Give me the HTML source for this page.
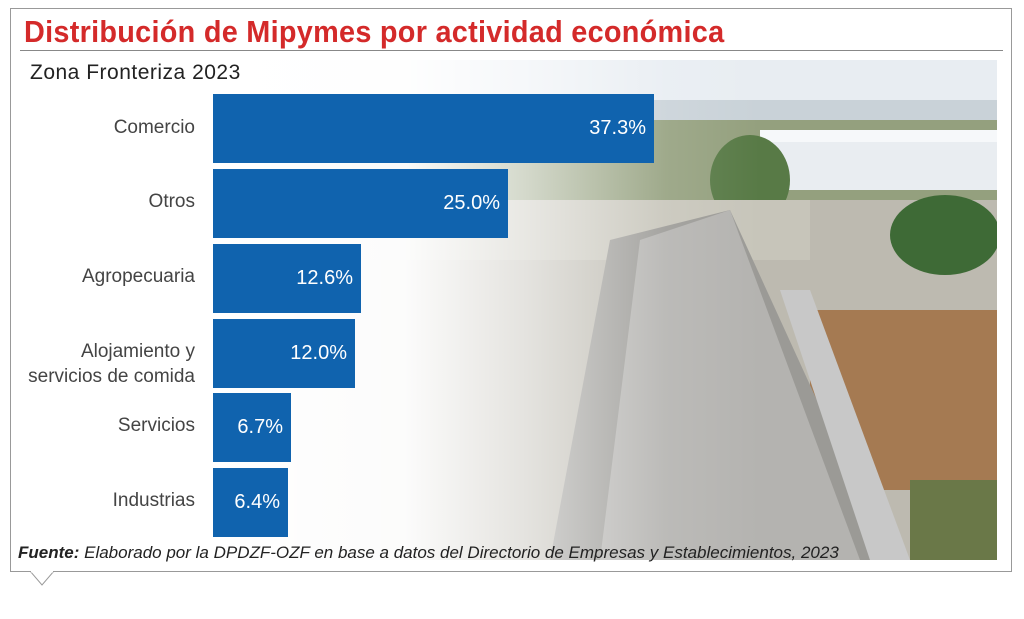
<!DOCTYPE html>
<html><head><meta charset="utf-8"><style>
body{margin:0;width:1024px;height:619px;background:#fff;position:relative;overflow:hidden;font-family:"Liberation Sans",sans-serif}
.box{position:absolute;left:10px;top:8px;width:1002px;height:564px;border:1px solid #999;box-sizing:border-box}
.title{position:absolute;left:24px;top:14px;font-weight:bold;font-size:31px;color:#d42a2a;transform:scaleX(0.93);transform-origin:left top;white-space:nowrap;letter-spacing:0.3px}
.rule{position:absolute;left:20px;top:50px;width:983px;height:1px;background:#888}
.sub{position:absolute;left:30px;top:61px;font-size:21px;color:#222;z-index:2;letter-spacing:0.5px}
.photo{position:absolute;left:210px;top:60px;width:787px;height:500px;overflow:hidden}
.fade{position:absolute;left:0;top:0;width:100%;height:100%;background:linear-gradient(90deg,#fff 0%,rgba(255,255,255,.95) 25%,rgba(255,255,255,.6) 40%,rgba(255,255,255,.1) 58%,rgba(255,255,255,0) 70%)}
.bar{position:absolute;left:213px;height:69px;background:#1063ae;color:#fff;font-size:20px;text-align:right;box-sizing:border-box;padding-right:8px;line-height:69px}
.lab{position:absolute;right:829px;font-size:19px;color:#444;text-align:right;line-height:25px}
.src{position:absolute;left:18px;top:543px;font-size:17px;font-style:italic;color:#222;white-space:nowrap;z-index:2}
</style></head><body>
<div class="box"></div>
<div class="title">Distribución de Mipymes por actividad económica</div>
<div class="rule"></div>
<div class="photo">
<svg width="787" height="500">
<rect width="787" height="500" fill="#bdbab0"/>
<rect width="787" height="55" fill="#e8edf2"/>
<rect y="40" width="787" height="20" fill="#c9d2d8"/>
<rect y="60" width="787" height="80" fill="#94a07e"/>
<rect x="550" y="70" width="237" height="60" fill="#e9edf1"/>
<rect x="550" y="70" width="237" height="12" fill="#f6f8fa"/>
<ellipse cx="735" cy="175" rx="55" ry="40" fill="#3e6a36"/>
<ellipse cx="540" cy="120" rx="40" ry="45" fill="#587a46"/>
<rect x="600" y="250" width="187" height="180" fill="#a57a52"/>
<rect y="140" width="600" height="60" fill="#c7c5ba"/>
<polygon points="400,180 520,150 680,500 340,500" fill="#9b9a96"/>
<polygon points="430,180 520,150 650,500 390,500" fill="#b4b3b0"/>
<polygon points="570,230 600,230 700,500 660,500" fill="#c8c8c8"/>
<rect x="700" y="420" width="87" height="80" fill="#6a7848"/>
</svg>
<div class="fade"></div>
</div>
<div class="sub">Zona Fronteriza 2023</div>
<div class="bar" style="top:94px;width:441px">37.3%</div>
<div class="bar" style="top:169px;width:295px">25.0%</div>
<div class="bar" style="top:244px;width:148px">12.6%</div>
<div class="bar" style="top:319px;width:142px">12.0%</div>
<div class="bar" style="top:393px;width:78px">6.7%</div>
<div class="bar" style="top:468px;width:75px">6.4%</div>
<div class="lab" style="top:115px">Comercio</div>
<div class="lab" style="top:189px">Otros</div>
<div class="lab" style="top:264px">Agropecuaria</div>
<div class="lab" style="top:339px">Alojamiento y<br>servicios de comida</div>
<div class="lab" style="top:413px">Servicios</div>
<div class="lab" style="top:488px">Industrias</div>
<div class="src"><b>Fuente:</b> Elaborado por la DPDZF-OZF en base a datos del Directorio de Empresas y Establecimientos, 2023</div>
<svg style="position:absolute;left:30px;top:571px" width="26" height="16"><polygon points="0,0 24,0 12,14" fill="#fff" stroke="#999"/><line x1="1" y1="0.5" x2="23" y2="0.5" stroke="#fff" stroke-width="2"/></svg>
</body></html>
